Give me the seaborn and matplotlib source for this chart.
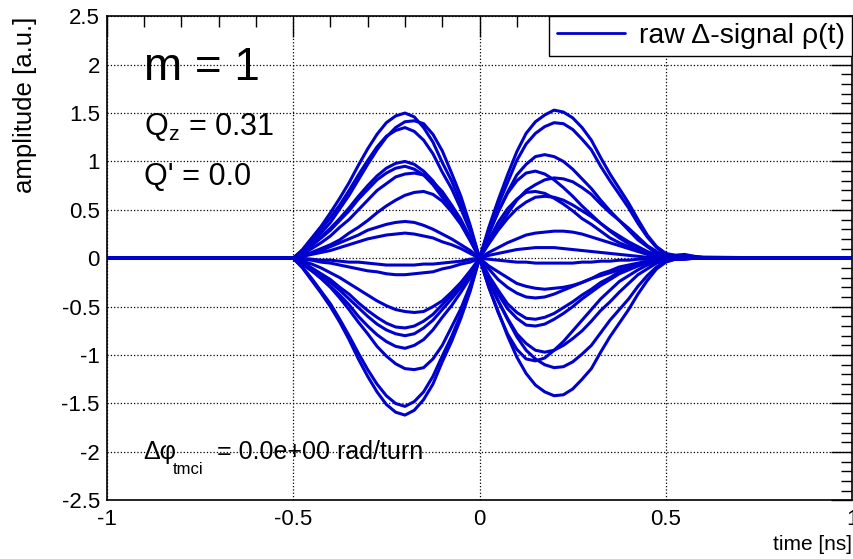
import pandas as pd
import matplotlib.pyplot as plt
import seaborn as sns
from matplotlib.lines import Line2D
from matplotlib.ticker import MultipleLocator, FuncFormatter

# time axis [ns] shared by all turns
time_ns = [-1.0,
           -0.5, -0.475, -0.45, -0.425, -0.4, -0.375, -0.35, -0.325, -0.3, -0.275,
           -0.25, -0.225, -0.2, -0.175, -0.15, -0.125, -0.1, -0.075, -0.05, -0.025,
           0.0,
           0.025, 0.05, 0.075, 0.1, 0.125, 0.15, 0.175, 0.2, 0.225, 0.25, 0.275, 0.3,
           0.325, 0.35, 0.375, 0.4, 0.425, 0.45, 0.475, 0.5, 0.525, 0.55, 0.575, 0.6,
           1.0]

# raw delta signal, one list per turn
sig01 = [0,
         0, .09, .21, .33, .47, .62, .78, .96, 1.13, 1.28, 1.40, 1.47, 1.50, 1.46, 1.35, 1.20, .99, .80, .57, .32,
         0,
         -.30, -.55, -.80, -1.02, -1.19, -1.31, -1.38, -1.42, -1.41, -1.35, -1.25, -1.14,
         -.97, -.81, -.67, -.53, -.37, -.23, -.11, -.04, -.01, -.01, 0, 0,
         0]
sig02 = [0,
         0, -.10, -.23, -.36, -.50, -.66, -.84, -1.04, -1.22, -1.38, -1.51, -1.59, -1.62, -1.57, -1.46, -1.30, -1.07, -.86, -.62, -.34,
         0,
         .32, .60, .86, 1.10, 1.29, 1.41, 1.48, 1.53, 1.51, 1.45, 1.35, 1.22,
         1.04, .87, .72, .57, .40, .24, .12, .05, .03, .04, .02, .01,
         0]
sig03 = [0,
         0, .07, .16, .26, .37, .51, .65, .81, .97, 1.12, 1.25, 1.35, 1.41, 1.42, 1.39, 1.28, 1.11, .88, .64, .34,
         0,
         -.24, -.44, -.63, -.81, -.95, -1.04, -1.10, -1.13, -1.12, -1.07, -.99, -.90,
         -.77, -.64, -.53, -.42, -.29, -.18, -.09, -.03, -.01, -.01, 0, 0,
         0]
sig04 = [0,
         0, -.09, -.21, -.34, -.47, -.63, -.80, -.98, -1.15, -1.30, -1.42, -1.50, -1.53, -1.48, -1.38, -1.22, -1.01, -.81, -.58, -.32,
         0,
         .29, .55, .78, 1.01, 1.18, 1.29, 1.36, 1.40, 1.39, 1.33, 1.23, 1.12,
         .95, .80, .66, .52, .36, .22, .11, .04, .03, .03, .02, .01,
         0]
sig05 = [0,
         0, .08, .19, .30, .42, .55, .70, .86, 1.01, 1.15, 1.26, 1.32, 1.35, 1.31, 1.22, 1.08, .89, .72, .51, .28,
         0,
         -.30, -.56, -.78, -.94, -1.04, -1.06, -1.03, -.95, -.86, -.75, -.64, -.53,
         -.42, -.33, -.24, -.18, -.12, -.07, -.04, -.02, -.01, 0, 0, 0,
         0]
sig06 = [0,
         0, .06, .14, .22, .31, .41, .52, .64, .75, .85, .93, .98, 1.00, .97, .90, .80, .66, .53, .38, .21,
         0,
         -.23, -.44, -.62, -.78, -.88, -.95, -.97, -.95, -.90, -.83, -.75, -.65,
         -.54, -.45, -.35, -.26, -.17, -.11, -.05, -.02, -.01, 0, 0, 0,
         0]
sig07 = [0,
         0, -.06, -.13, -.21, -.30, -.41, -.53, -.66, -.78, -.91, -1.01, -1.09, -1.14, -1.15, -1.13, -1.04, -.90, -.71, -.52, -.28,
         0,
         .26, .48, .68, .86, .97, 1.05, 1.07, 1.05, 1.00, .92, .82, .72,
         .60, .49, .39, .29, .19, .12, .05, .02, .02, .01, .01, 0,
         0]
sig08 = [0,
         0, .06, .13, .21, .29, .39, .49, .61, .71, .81, .88, .93, .95, .92, .86, .76, .63, .50, .36, .20,
         0,
         -.20, -.37, -.52, -.62, -.69, -.70, -.68, -.63, -.57, -.50, -.42, -.35,
         -.28, -.22, -.16, -.12, -.08, -.05, -.03, -.01, -.01, 0, 0, 0,
         0]
sig09 = [0,
         0, -.06, -.13, -.20, -.29, -.38, -.48, -.60, -.70, -.79, -.86, -.91, -.93, -.90, -.84, -.74, -.61, -.49, -.35, -.20,
         0,
         .17, .32, .46, .60, .70, .76, .81, .83, .82, .79, .73, .66,
         .56, .47, .39, .31, .22, .13, .07, .02, .01, .01, 0, 0,
         0]
sig10 = [0,
         0, .04, .10, .16, .23, .32, .40, .50, .60, .70, .77, .84, .87, .88, .86, .79, .69, .55, .40, .21,
         0,
         -.18, -.33, -.47, -.56, -.62, -.63, -.61, -.57, -.51, -.45, -.38, -.32,
         -.25, -.20, -.14, -.11, -.07, -.04, -.03, -.01, -.01, 0, 0, 0,
         0]
sig11 = [0,
         0, -.05, -.11, -.18, -.25, -.33, -.42, -.51, -.60, -.68, -.74, -.78, -.80, -.78, -.72, -.64, -.53, -.42, -.30, -.17,
         0,
         .25, .48, .67, .80, .88, .90, .87, .81, .73, .64, .54, .45,
         .36, .28, .21, .15, .10, .06, .04, .02, .01, .01, 0, 0,
         0]
sig12 = [0,
         0, .03, .06, .10, .14, .19, .26, .32, .39, .47, .54, .60, .65, .68, .69, .66, .59, .48, .35, .18,
         0,
         -.11, -.22, -.30, -.36, -.40, -.41, -.40, -.37, -.33, -.29, -.25, -.21,
         -.16, -.13, -.09, -.07, -.05, -.03, -.02, -.01, 0, 0, 0, 0,
         0]
sig13 = [0,
         0, -.04, -.10, -.16, -.22, -.30, -.37, -.46, -.54, -.61, -.67, -.71, -.72, -.70, -.65, -.58, -.48, -.38, -.27, -.15,
         0,
         .19, .37, .51, .61, .68, .69, .67, .62, .56, .49, .41, .35,
         .28, .21, .16, .12, .08, .05, .03, .01, .01, 0, 0, 0,
         0]
sig14 = [0,
         0, -.03, -.06, -.10, -.15, -.20, -.26, -.32, -.38, -.44, -.49, -.53, -.55, -.56, -.55, -.50, -.44, -.35, -.25, -.13,
         0,
         .15, .29, .41, .51, .58, .63, .64, .63, .60, .55, .49, .43,
         .36, .29, .23, .17, .12, .07, .03, .01, .01, 0, 0, 0,
         0]
sig15 = [0,
         0, .02, .05, .08, .12, .16, .20, .24, .29, .32, .35, .37, .38, .37, .34, .30, .25, .20, .14, .08,
         0,
         -.08, -.14, -.20, -.26, -.29, -.31, -.32, -.31, -.30, -.28, -.25, -.21,
         -.18, -.15, -.12, -.09, -.06, -.04, -.02, -.01, 0, 0, 0, 0,
         0]
sig16 = [0,
         0, .02, .04, .06, .08, .11, .14, .17, .20, .22, .24, .25, .26, .25, .23, .21, .17, .14, .10, .05,
         0,
         .06, .11, .16, .20, .24, .26, .27, .28, .28, .27, .25, .22,
         .19, .16, .13, .10, .07, .04, .02, .01, 0, 0, 0, 0,
         0]
sig17 = [0,
         0, -.01, -.02, -.04, -.05, -.07, -.09, -.11, -.13, -.14, -.16, -.17, -.17, -.16, -.15, -.14, -.11, -.09, -.06, -.04,
         0,
         .03, .05, .07, .09, .10, .11, .11, .11, .10, .09, .08, .07,
         .06, .05, .04, .03, .02, .01, .01, 0, 0, 0, 0, 0,
         0]
sig18 = [0,
         0, 0, -.01, -.02, -.02, -.03, -.04, -.04, -.05, -.06, -.07, -.07, -.07, -.07, -.06, -.06, -.05, -.04, -.03, -.01,
         0,
         -.01, -.02, -.03, -.04, -.04, -.05, -.05, -.05, -.05, -.05, -.04, -.04,
         -.03, -.03, -.02, -.02, -.01, -.01, 0, 0, 0, 0, 0, 0,
         0]

signals = [sig01, sig02, sig03, sig04, sig05, sig06, sig07, sig08, sig09,
           sig10, sig11, sig12, sig13, sig14, sig15, sig16, sig17, sig18]

rows = []
for turn, sig in enumerate(signals):
    assert len(sig) == len(time_ns), (turn, len(sig))
    for t, a in zip(time_ns, sig):
        rows.append({"time": t, "amplitude": a, "turn": turn})
df = pd.DataFrame(rows)

sns.set_theme(style="white")
plt.rcParams['font.family'] = ['Liberation Sans', 'DejaVu Sans']
plt.rcParams['axes.unicode_minus'] = False
plt.rcParams['mathtext.fontset'] = 'custom'
plt.rcParams['mathtext.rm'] = 'Liberation Sans'
plt.rcParams['mathtext.it'] = 'Liberation Sans:italic'
plt.rcParams['text.color'] = 'black'
plt.rcParams['axes.labelcolor'] = 'black'
plt.rcParams['xtick.color'] = 'black'
plt.rcParams['ytick.color'] = 'black'

blue = "#0000cc"

fig = plt.figure(figsize=(8.54, 5.59), dpi=100)
ax = fig.add_axes([0.125, 0.105, 0.873, 0.866])

sns.lineplot(data=df, x="time", y="amplitude", units="turn", estimator=None,
             color=blue, lw=2.2, ax=ax)

ax.set_xlim(-1, 1)
ax.set_ylim(-2.5, 2.5)
ax.xaxis.set_major_locator(MultipleLocator(0.5))
ax.xaxis.set_minor_locator(MultipleLocator(0.1))
ax.yaxis.set_major_locator(MultipleLocator(0.5))
ax.yaxis.set_minor_locator(MultipleLocator(0.1))
fmt = FuncFormatter(lambda v, p: "%g" % round(v, 2))
ax.xaxis.set_major_formatter(fmt)
ax.yaxis.set_major_formatter(fmt)
ax.tick_params(which="both", direction="in", top=True, right=True,
               color="black", labelcolor="black", labelsize=16)
ax.tick_params(which="major", length=15, width=1)
ax.tick_params(which="minor", length=8, width=1)
ax.tick_params(axis="x", pad=6)
ax.tick_params(axis="y", pad=5)
ax.grid(True, which="major", linestyle=":", color="black", lw=0.9)
for s in ax.spines.values():
    s.set_color("black")
    s.set_linewidth(1.2)

ax.set_xlabel("time [ns]", loc="right", fontsize=15, color="black")
ax.set_ylabel("amplitude [a.u.]", loc="top", fontsize=18.5, color="black")
ax.yaxis.set_label_coords(-0.093, 1.0)

ax.text(-0.9, 1.84, "m = 1", fontsize=33, va="baseline")
ax.text(-0.9, 1.27, r"Q$_{\mathrm{z}}$ = 0.31", fontsize=22, va="baseline")
ax.text(-0.9, 0.76, "Q' = 0.0", fontsize=22, va="baseline")
ax.text(-0.903, -2.077, "Δφ", fontsize=18, va="baseline")
ax.text(-0.823, -2.23, "tmci", fontsize=12, va="baseline")
ax.text(-0.705, -2.077, "= 0.0e+00 rad/turn", fontsize=18, va="baseline")

handle = Line2D([], [], color=blue, lw=2)
ax.legend([handle], ["raw Δ-signal ρ(t)"], loc="upper right",
          bbox_to_anchor=(1, 1), borderaxespad=0, fancybox=False,
          edgecolor="black", framealpha=1, fontsize=20.5, handlelength=2.4,
          handletextpad=0.5, borderpad=0.25, labelcolor="black")

plt.savefig("out.png", dpi=100)
plt.close()
